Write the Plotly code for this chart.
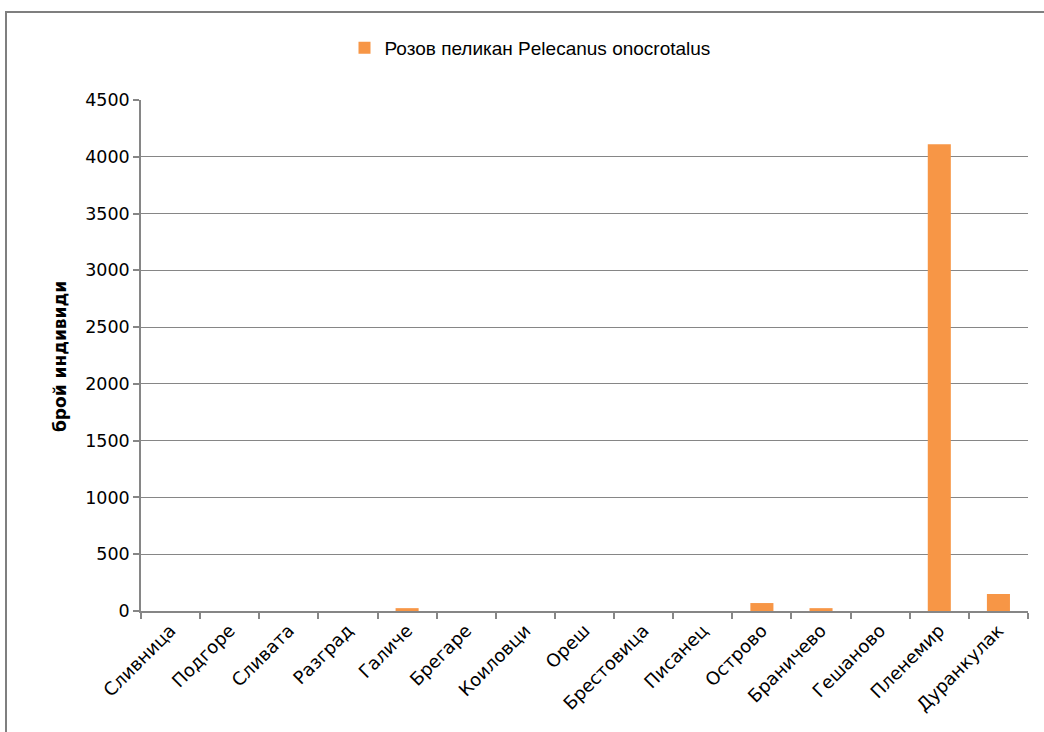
import plotly.graph_objects as go

categories = ["Сливница", "Подгоре", "Сливата", "Разград", "Галиче", "Брегаре", "Коиловци",
              "Ореш", "Брестовица", "Писанец", "Острово", "Браничево", "Гешаново", "Пленемир",
              "Дуранкулак"]
values = [0, 0, 0, 0, 25, 0, 0, 0, 0, 0, 70, 25, 0, 4110, 150]
series_name = "Розов пеликан Pelecanus onocrotalus"
y_title = "брой индивиди"

W, H = 1044, 732
L, R, T, B = 141, 16, 100, 121
pw, ph = W - L - R, H - T - B

def px_x(x):
    return (x - L) / pw

def px_y(y):
    return (H - B - y) / ph

grey = "#868686"
font_main = "DejaVu Sans, Verdana, sans-serif"

fig = go.Figure()
fig.add_trace(go.Bar(x=categories, y=values, name=series_name,
                     marker=dict(color="#F79646", line=dict(width=0))))

fig.update_layout(
    width=W, height=H,
    margin=dict(l=L, r=R, t=T, b=B),
    paper_bgcolor="white", plot_bgcolor="white",
    bargap=0.61,
    showlegend=True,
    legend=dict(orientation="h", x=px_x(530), xanchor="center", y=px_y(48), yanchor="middle",
                font=dict(family="Liberation Sans Narrow, Liberation Sans, sans-serif", size=19, color="#000000"),
                itemwidth=30),
    font=dict(family=font_main, size=17, color="#000000"),
)
fig.update_xaxes(
    type="category", tickangle=-45, showgrid=False,
    showline=True, linecolor=grey, linewidth=2,
    ticks="outside", tickson="boundaries", ticklen=6, tickcolor=grey, tickwidth=1.5,
    tickfont=dict(family=font_main, size=18),
)
fig.update_yaxes(
    range=[0, 4500], dtick=500, showgrid=True, gridcolor=grey, gridwidth=1,
    showline=True, linecolor=grey, linewidth=1.5,
    ticks="outside", ticklen=6, tickcolor=grey, tickwidth=1.5,
    tickfont=dict(family=font_main, size=17.5),
    zeroline=False,
)
fig.add_annotation(text="<b>" + y_title + "</b>", xref="paper", yref="paper",
                   x=px_x(60), y=px_y(357), xanchor="center", yanchor="middle",
                   textangle=-90, showarrow=False,
                   font=dict(family=font_main, size=17, color="#000000"))
fig.add_shape(type="rect", xref="paper", yref="paper",
              x0=px_x(6), x1=px_x(1100), y0=px_y(800), y1=px_y(12),
              line=dict(color="#7f7f7f", width=2), fillcolor="rgba(0,0,0,0)", layer="below")

fig.write_html("out.html", config={"displayModeBar": False},
               post_script="document.body.style.margin='0';")
